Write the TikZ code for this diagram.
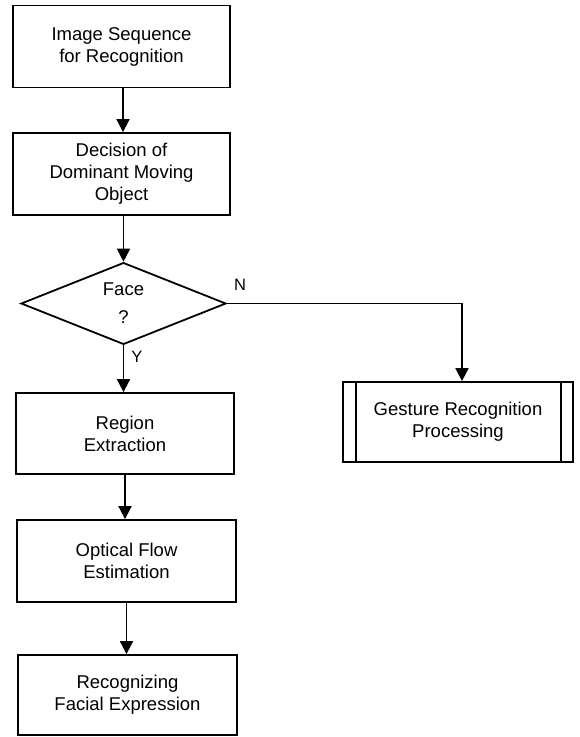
\documentclass[tikz,border=0pt]{standalone}
\usepackage{fontspec}
\setmainfont{Liberation Sans}
\usetikzlibrary{shapes.geometric,arrows.meta}
\begin{document}
\begin{tikzpicture}[x=1pt,y=-1pt,
  every node/.style={font=\fontsize{18.5}{22}\selectfont},
  box/.style={draw,line width=1.8pt,inner sep=0pt,align=center,minimum height=82pt},
  flow/.style={line width=1.8pt,-{Triangle[width=13pt,length=13pt]}},
  lbl/.style={inner sep=0pt,font=\fontsize{16.5}{18}\selectfont}]
\useasboundingbox (0,0) rectangle (579,737);
\node[box,minimum width=217pt] (b1) at (121.5,46.5) {Image Sequence\\for Recognition};
\node[box,minimum width=217pt] (b2) at (121.5,174) {Decision of\\Dominant Moving\\Object};
\node[draw,diamond,line width=1.8pt,inner sep=0pt,minimum width=205pt,minimum height=73pt,align=center] (d) at (123.5,303.5) {Face\\[6pt]?};
\node[box,minimum width=218pt,minimum height=81pt] (b3) at (125,433.5) {Region\\Extraction};
\node[box,minimum width=219pt] (b4) at (126.5,561) {Optical Flow\\Estimation};
\node[box,minimum width=219pt,minimum height=80pt] (b5) at (127.5,695) {Recognizing\\Facial Expression};
\node[box,minimum width=230pt,minimum height=80pt] (g) at (458,422) {Gesture Recognition\\Processing};
\draw[line width=1.8pt] ([xshift=14pt]g.north west) -- ([xshift=14pt]g.south west);
\draw[line width=1.8pt] ([xshift=-13pt]g.north east) -- ([xshift=-13pt]g.south east);
\node[lbl] (n) at (240,285) {N};
\node[lbl] (y) at (137,357) {Y};
\coordinate (corner) at (462,303.5);
\draw[flow] ([xshift=1.5pt]b1.south) -- ([xshift=1.5pt]b2.north);
\draw[flow] (b2.south -| d.north) -- (d.north);
\draw[flow] (d.south) -- (d.south |- b3.north);
\draw[flow] (b3.south) -- (b3.south |- b4.north);
\draw[flow] (b4.south) -- (b4.south |- b5.north);
\draw[flow] (d.east) -- (corner) -- (corner |- g.north);
\end{tikzpicture}
\end{document}
